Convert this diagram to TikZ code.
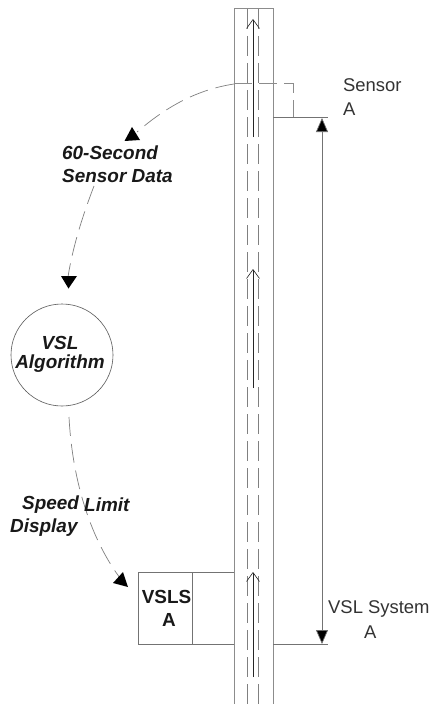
\documentclass[tikz,border=0pt]{standalone}
\usepackage{fontspec}
\setmainfont{Liberation Sans}
\usetikzlibrary{arrows.meta}
\definecolor{roadgrey}{gray}{0.55}
\definecolor{dashgrey}{gray}{0.5}
\tikzset{
  x=1bp,y=-1bp,
  road/.style={draw=roadgrey,line width=1bp},
  lane/.style={draw=dashgrey,line width=0.9bp,dash pattern=on 20bp off 7bp},
  flow/.style={draw=black!85,line width=1bp,-{Straight Barb[length=9bp,width=13bp,line width=0.6bp]}},
  datalink/.style={draw=dashgrey,line width=0.7bp,dash pattern=on 19bp off 8bp},
  thin box/.style={draw=black!55,line width=0.7bp},
  headfill/.style={fill=black},
  italiclabel/.style={font=\fontsize{19}{23}\selectfont\bfseries\itshape,inner sep=0pt,anchor=west,text=black!90},
  boldlabel/.style={font=\fontsize{19}{23}\selectfont\bfseries,inner sep=0pt,text=black!90},
  plainlabel/.style={font=\fontsize{18.5}{22}\selectfont,text=black!80,inner sep=0pt,anchor=west},
}
\begin{document}
\begin{tikzpicture}
\useasboundingbox (0,0) rectangle (433,704);
\fill[white] (0,0) rectangle (433,704);
% road
\coordinate (rtl) at (234,9); \coordinate (rtr) at (273,9);
\coordinate (rbl) at (234,704); \coordinate (rbr) at (273,704);
\draw[road] (rbl) -- (rtl) -- (rtr) -- (rbr);
\coordinate (l1t) at (247,9); \coordinate (l1b) at (247,704);
\coordinate (l2t) at (258,9); \coordinate (l2b) at (258,704);
\draw[lane] (l1t) -- (l1b);
\draw[lane] (l2t) -- (l2b);
% flow arrows
\coordinate (a1s) at (253,137); \coordinate (a1e) at (253,19);
\coordinate (a2s) at (253,388); \coordinate (a2e) at (253,269);
\coordinate (a3s) at (253,677); \coordinate (a3e) at (253,572);
\draw[flow] (a1s) -- (a1e);
\draw[flow] (a2s) -- (a2e);
\draw[flow] (a3s) -- (a3e);
% sensor
\coordinate (sr) at (293,84); \coordinate (sd) at (293,117);
\coordinate (se) at (273,117); \coordinate (sf) at (328,117);
\coordinate (sl) at (234,84);
\draw[road,dash pattern=on 18bp off 7bp] (sl) -- (sr) -- (sd);
\draw[thin box] (se) -- (sf);
% dimension
\coordinate (de) at (273,644); \coordinate (df) at (328,644);
\draw[thin box] (de) -- (df);
\coordinate (dt) at (322,118); \coordinate (db) at (322,644);
\draw[thin box,{Triangle[length=14bp,width=12bp,fill=black]}-{Triangle[length=14bp,width=12bp,fill=black]}] (dt) -- (db);
% VSLS
\draw[thin box] (234,572) -- (138,572) -- (138,644) -- (234,644);
\draw[thin box] (192,572) -- (192,644);
\node[boldlabel] (vsls) at (166.5,597) {VSLS};
\node[boldlabel] (vslsa) at (169,620) {A};
% algorithm
\node[circle,draw=black!65,line width=0.6bp,minimum size=102bp,inner sep=0pt] (algo) at (62,355) {};
\node[boldlabel,font=\fontsize{19}{23}\selectfont\bfseries\itshape] (algo1) at (60,343) {VSL};
\node[boldlabel,font=\fontsize{19}{23}\selectfont\bfseries\itshape] (algo2) at (60,364) {Algorithm};
% data links
\coordinate (dl1) at (234,84);
\coordinate (dl1e) at (137,132);
\draw[datalink] (dl1) .. controls (195,90) and (165,108) .. (dl1e);
\fill[headfill] (132,127) -- (124.5,141) -- (140,140) -- cycle;
\coordinate (dl2) at (94,186);
\coordinate (dl2e) at (68,277);
\draw[datalink] (dl2) .. controls (84,212) and (73,245) .. (dl2e);
\fill[headfill] (61,276) -- (77,276) -- (68.5,288.5) -- cycle;
\coordinate (dl3) at (69,417);
\coordinate (dl3e) at (120,578);
\draw[datalink] (dl3) .. controls (72,475) and (88,535) .. (dl3e);
\fill[headfill] (128,587) -- (113,583) -- (123,572) -- cycle;
% labels
\node[italiclabel] (l60a) at (62,153) {60-Second};
\node[italiclabel] (l60b) at (62,176) {Sensor Data};
\node[italiclabel] (lsp1) at (22,505) {Speed};
\node[italiclabel] (lsp2) at (84,505) {Limit};
\node[italiclabel] (lsp3) at (10,528) {Display};
\node[plainlabel] (ls1) at (343,85) {Sensor};
\node[plainlabel] (ls2) at (343,109) {A};
\node[plainlabel] (lv1) at (328,609) {VSL System};
\node[plainlabel] (lv2) at (364,632) {A};
\end{tikzpicture}
\end{document}
